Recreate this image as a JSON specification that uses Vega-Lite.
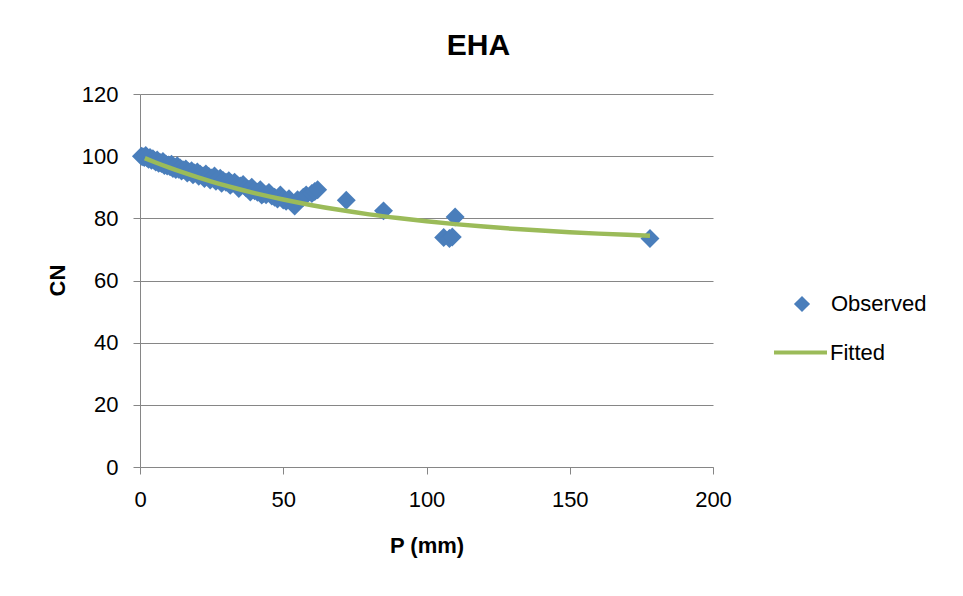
{
  "$schema": "https://vega.github.io/schema/vega-lite/v6.json",
  "autosize": {"type": "none"},
  "width": 573,
  "height": 373,
  "padding": {"left": 140, "top": 94, "right": 250, "bottom": 129},
  "background": "white",
  "config": {
    "font": "Liberation Sans",
    "view": {"stroke": null},
    "axis": {
      "labelFont": "Liberation Sans",
      "labelFontSize": 22,
      "labelColor": "#000000",
      "titleFont": "Liberation Sans",
      "titleFontSize": 22,
      "titleFontWeight": "bold",
      "titleColor": "#000000",
      "domainColor": "#868686",
      "tickColor": "#868686",
      "gridColor": "#868686",
      "gridWidth": 1,
      "domainWidth": 1,
      "tickSize": 7,
      "labelPadding": 15,
      "labelFlush": false
    },
    "legend": {
      "title": null,
      "orient": "none",
      "labelFont": "Liberation Sans",
      "labelFontSize": 22,
      "labelColor": "#000000"
    }
  },
  "title": {
    "text": "EHA",
    "font": "Liberation Sans",
    "fontSize": 30,
    "fontWeight": "bold",
    "color": "#000000",
    "anchor": "middle",
    "dx": 52,
    "baseline": "alphabetic",
    "offset": -2
  },
  "resolve": {"scale": {"color": "independent"}, "legend": {"color": "independent"}},
  "datasets": {
    "observed": [
      {"P": 0.5, "CN": 100.0, "series": "Observed"},
      {"P": 1, "CN": 99.8, "series": "Observed"},
      {"P": 1.5, "CN": 99.6, "series": "Observed"},
      {"P": 2, "CN": 100.2, "series": "Observed"},
      {"P": 2.5, "CN": 99.4, "series": "Observed"},
      {"P": 3, "CN": 99.0, "series": "Observed"},
      {"P": 3.5, "CN": 99.6, "series": "Observed"},
      {"P": 4, "CN": 98.7, "series": "Observed"},
      {"P": 4.5, "CN": 99.2, "series": "Observed"},
      {"P": 5, "CN": 98.6, "series": "Observed"},
      {"P": 5.5, "CN": 98.1, "series": "Observed"},
      {"P": 6, "CN": 98.8, "series": "Observed"},
      {"P": 6.5, "CN": 97.7, "series": "Observed"},
      {"P": 7, "CN": 98.0, "series": "Observed"},
      {"P": 7.5, "CN": 97.6, "series": "Observed"},
      {"P": 8, "CN": 98.3, "series": "Observed"},
      {"P": 8.5, "CN": 97.0, "series": "Observed"},
      {"P": 9, "CN": 97.5, "series": "Observed"},
      {"P": 9.5, "CN": 96.8, "series": "Observed"},
      {"P": 10, "CN": 97.2, "series": "Observed"},
      {"P": 10.5, "CN": 96.6, "series": "Observed"},
      {"P": 11, "CN": 97.4, "series": "Observed"},
      {"P": 11.5, "CN": 96.0, "series": "Observed"},
      {"P": 12, "CN": 96.5, "series": "Observed"},
      {"P": 12.5, "CN": 95.7, "series": "Observed"},
      {"P": 13, "CN": 96.9, "series": "Observed"},
      {"P": 13.5, "CN": 95.8, "series": "Observed"},
      {"P": 14, "CN": 96.2, "series": "Observed"},
      {"P": 14.5, "CN": 95.2, "series": "Observed"},
      {"P": 15, "CN": 95.6, "series": "Observed"},
      {"P": 16, "CN": 95.9, "series": "Observed"},
      {"P": 16.5, "CN": 94.6, "series": "Observed"},
      {"P": 17, "CN": 95.0, "series": "Observed"},
      {"P": 18, "CN": 95.3, "series": "Observed"},
      {"P": 18.5, "CN": 94.0, "series": "Observed"},
      {"P": 19, "CN": 94.6, "series": "Observed"},
      {"P": 20, "CN": 94.9, "series": "Observed"},
      {"P": 20.5, "CN": 93.5, "series": "Observed"},
      {"P": 21, "CN": 94.2, "series": "Observed"},
      {"P": 22, "CN": 93.6, "series": "Observed"},
      {"P": 22.5, "CN": 92.8, "series": "Observed"},
      {"P": 23, "CN": 94.3, "series": "Observed"},
      {"P": 24, "CN": 93.5, "series": "Observed"},
      {"P": 24.5, "CN": 92.3, "series": "Observed"},
      {"P": 25, "CN": 93.0, "series": "Observed"},
      {"P": 26, "CN": 93.6, "series": "Observed"},
      {"P": 26.5, "CN": 91.9, "series": "Observed"},
      {"P": 27, "CN": 92.5, "series": "Observed"},
      {"P": 28, "CN": 92.9, "series": "Observed"},
      {"P": 28.5, "CN": 91.3, "series": "Observed"},
      {"P": 29, "CN": 92.2, "series": "Observed"},
      {"P": 30, "CN": 91.6, "series": "Observed"},
      {"P": 31, "CN": 92.1, "series": "Observed"},
      {"P": 31.5, "CN": 90.6, "series": "Observed"},
      {"P": 32, "CN": 91.2, "series": "Observed"},
      {"P": 33, "CN": 91.6, "series": "Observed"},
      {"P": 34, "CN": 90.7, "series": "Observed"},
      {"P": 34.5, "CN": 89.6, "series": "Observed"},
      {"P": 35, "CN": 90.4, "series": "Observed"},
      {"P": 36, "CN": 90.9, "series": "Observed"},
      {"P": 37, "CN": 89.8, "series": "Observed"},
      {"P": 38, "CN": 89.3, "series": "Observed"},
      {"P": 38.5, "CN": 88.5, "series": "Observed"},
      {"P": 39, "CN": 90.0, "series": "Observed"},
      {"P": 40, "CN": 88.9, "series": "Observed"},
      {"P": 41, "CN": 88.4, "series": "Observed"},
      {"P": 42, "CN": 89.2, "series": "Observed"},
      {"P": 42.5, "CN": 87.5, "series": "Observed"},
      {"P": 43, "CN": 88.0, "series": "Observed"},
      {"P": 44, "CN": 87.6, "series": "Observed"},
      {"P": 45, "CN": 88.3, "series": "Observed"},
      {"P": 46, "CN": 87.2, "series": "Observed"},
      {"P": 47, "CN": 86.8, "series": "Observed"},
      {"P": 48, "CN": 86.2, "series": "Observed"},
      {"P": 49, "CN": 87.5, "series": "Observed"},
      {"P": 50, "CN": 85.9, "series": "Observed"},
      {"P": 51, "CN": 85.5, "series": "Observed"},
      {"P": 52, "CN": 86.3, "series": "Observed"},
      {"P": 54, "CN": 84.0, "series": "Observed"},
      {"P": 55, "CN": 86.0, "series": "Observed"},
      {"P": 57, "CN": 86.8, "series": "Observed"},
      {"P": 58, "CN": 87.5, "series": "Observed"},
      {"P": 60, "CN": 88.0, "series": "Observed"},
      {"P": 61, "CN": 88.6, "series": "Observed"},
      {"P": 62, "CN": 89.2, "series": "Observed"},
      {"P": 72, "CN": 85.8, "series": "Observed"},
      {"P": 85, "CN": 82.4, "series": "Observed"},
      {"P": 106, "CN": 73.8, "series": "Observed"},
      {"P": 108, "CN": 73.5, "series": "Observed"},
      {"P": 109, "CN": 74.0, "series": "Observed"},
      {"P": 110, "CN": 80.4, "series": "Observed"},
      {"P": 178, "CN": 73.5, "series": "Observed"}
    ],
    "fitted": [
      {"P": 1.7, "CN": 99.35, "series": "Fitted"},
      {"P": 5, "CN": 98.13, "series": "Fitted"},
      {"P": 10, "CN": 96.39, "series": "Fitted"},
      {"P": 15, "CN": 94.76, "series": "Fitted"},
      {"P": 20, "CN": 93.25, "series": "Fitted"},
      {"P": 25, "CN": 91.83, "series": "Fitted"},
      {"P": 30, "CN": 90.51, "series": "Fitted"},
      {"P": 35, "CN": 89.27, "series": "Fitted"},
      {"P": 40, "CN": 88.12, "series": "Fitted"},
      {"P": 45, "CN": 87.05, "series": "Fitted"},
      {"P": 50, "CN": 86.04, "series": "Fitted"},
      {"P": 60, "CN": 84.23, "series": "Fitted"},
      {"P": 70, "CN": 82.66, "series": "Fitted"},
      {"P": 80, "CN": 81.28, "series": "Fitted"},
      {"P": 90, "CN": 80.09, "series": "Fitted"},
      {"P": 100, "CN": 79.04, "series": "Fitted"},
      {"P": 110, "CN": 78.14, "series": "Fitted"},
      {"P": 120, "CN": 77.34, "series": "Fitted"},
      {"P": 130, "CN": 76.66, "series": "Fitted"},
      {"P": 140, "CN": 76.06, "series": "Fitted"},
      {"P": 150, "CN": 75.53, "series": "Fitted"},
      {"P": 160, "CN": 75.08, "series": "Fitted"},
      {"P": 170, "CN": 74.68, "series": "Fitted"},
      {"P": 178, "CN": 74.40, "series": "Fitted"}
    ]
  },
  "layer": [
    {
      "data": {"name": "observed"},
      "mark": {"type": "point", "shape": "diamond", "filled": true, "size": 360, "opacity": 1},
      "encoding": {
        "x": {
          "field": "P", "type": "quantitative",
          "scale": {"domain": [0, 200], "nice": false},
          "axis": {"values": [0, 50, 100, 150, 200], "grid": false, "title": "P (mm)", "titleBaseline": "alphabetic", "titleY": 85}
        },
        "y": {
          "field": "CN", "type": "quantitative",
          "scale": {"domain": [0, 120], "nice": false},
          "axis": {"values": [0, 20, 40, 60, 80, 100, 120], "grid": true, "title": "CN", "titleBaseline": "alphabetic", "titleX": -76, "titleY": 186}
        },
        "color": {
          "field": "series", "type": "nominal",
          "scale": {"domain": ["Observed"], "range": ["#4a7ebb"]},
          "legend": {
            "legendX": 651,
            "legendY": 199,
            "symbolSize": 260,
            "symbolType": "diamond",
            "symbolOpacity": 1,
            "labelOffset": 18
          }
        }
      }
    },
    {
      "data": {"name": "fitted"},
      "mark": {"type": "line", "strokeWidth": 4.5, "interpolate": "monotone"},
      "encoding": {
        "x": {"field": "P", "type": "quantitative"},
        "y": {"field": "CN", "type": "quantitative"},
        "color": {
          "field": "series", "type": "nominal",
          "scale": {"domain": ["Fitted"], "range": ["#9bbb59"]},
          "legend": {
            "legendX": 632,
            "legendY": 230,
            "symbolType": "stroke",
            "symbolSize": 2809,
            "symbolStrokeWidth": 4,
            "labelOffset": 1
          }
        }
      }
    }
  ]
}
